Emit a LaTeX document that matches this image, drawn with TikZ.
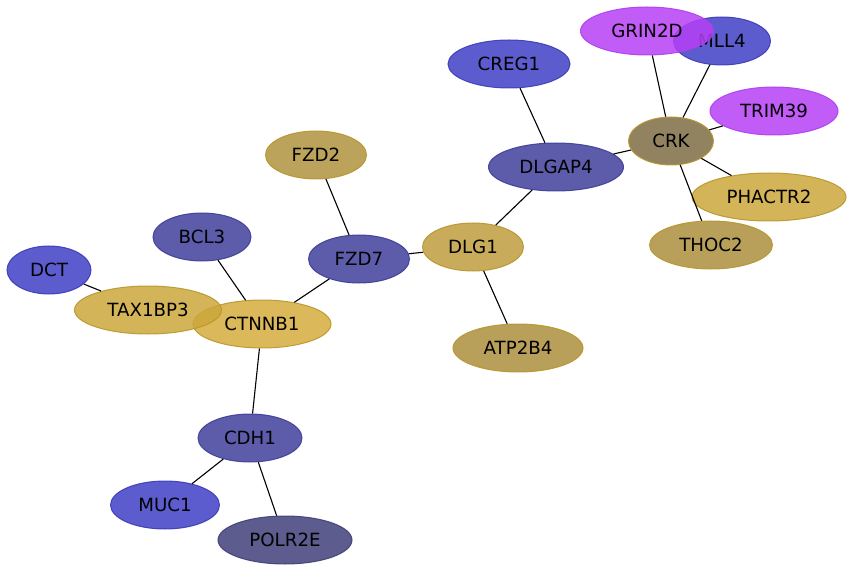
\documentclass[tikz,border=0pt]{standalone}
\usepackage{fontspec}
\setmainfont{DejaVu Sans}
\usetikzlibrary{shapes.geometric}
\definecolor{cblue}{RGB}{63,63,197}
\definecolor{cbluel}{HTML}{3A3AB8}
\definecolor{cgrey}{RGB}{63,63,155}
\definecolor{cgreyl}{HTML}{3C3C99}
\definecolor{cdark}{RGB}{63,63,122}
\definecolor{cdarkl}{HTML}{3E3E75}
\definecolor{cmag}{RGB}{182,63,246}
\definecolor{cmagl}{HTML}{AE3EF0}
\definecolor{gA}{RGB}{213,173,61}
\definecolor{gB}{RGB}{203,167,59}
\definecolor{gC}{RGB}{190,157,64}
\definecolor{gD}{RGB}{175,147,62}
\definecolor{gE}{RGB}{171,143,62}
\definecolor{gF}{RGB}{127,109,68}
\definecolor{gline}{HTML}{B8962A}
\tikzset{
  gene/.style={ellipse, inner sep=0pt, minimum height=48pt, font=\fontsize{18.2pt}{21pt}\selectfont, text=black, line width=1pt, fill opacity=0.85, draw opacity=0.9, text opacity=1},
  bl/.style={gene, fill=cblue, draw=cbluel},
  gr/.style={gene, fill=cgrey, draw=cgreyl},
  dk/.style={gene, fill=cdark, draw=cdarkl},
  mg/.style={gene, fill=cmag, draw=cmagl},
  gold/.style={gene, fill=#1, draw=gline},
  link/.style={draw=black, line width=1.1pt}
}
\begin{document}
\begin{tikzpicture}[x=1pt,y=-1pt]
\useasboundingbox (0,0) rectangle (854,572);
\node[bl, minimum width=97pt] (MLL4) at (722,41) {MLL4};
\node[mg, minimum width=133pt] (GRIN2D) at (647,31) {GRIN2D};
\node[bl, minimum width=122pt] (CREG1) at (509,64) {CREG1};
\node[mg, minimum width=128pt] (TRIM39) at (774,111) {TRIM39};
\node[gold=gF, minimum width=85pt] (CRK) at (671,141) {CRK};
\node[gr, minimum width=135pt] (DLGAP4) at (556,167) {DLGAP4};
\node[gold=gB, minimum width=154pt] (PHACTR2) at (769,197) {PHACTR2};
\node[gold=gE, minimum width=123pt] (THOC2) at (711,245) {THOC2};
\node[gold=gD, minimum width=101pt] (FZD2) at (316,155) {FZD2};
\node[gr, minimum width=98pt] (BCL3) at (202,237) {BCL3};
\node[gr, minimum width=101pt] (FZD7) at (359,259) {FZD7};
\node[gold=gC, minimum width=101pt] (DLG1) at (473,247) {DLG1};
\node[bl, minimum width=84pt] (DCT) at (49,270) {DCT};
\node[gold=gA, minimum width=138pt] (CTNNB1) at (262,324) {CTNNB1};
\node[gold=gB, minimum width=147pt] (TAX1BP3) at (148,310) {TAX1BP3};
\node[gold=gE, minimum width=130pt] (ATP2B4) at (518,348) {ATP2B4};
\node[gr, minimum width=104pt] (CDH1) at (250,438) {CDH1};
\node[bl, minimum width=109pt] (MUC1) at (165,505) {MUC1};
\node[dk, minimum width=134pt] (POLR2E) at (285,540) {POLR2E};
\path[link] (DCT) -- (TAX1BP3);
\path[link] (BCL3) -- (CTNNB1);
\path[link] (CTNNB1) -- (FZD7);
\path[link] (FZD2) -- (FZD7);
\path[link] (FZD7) -- (DLG1);
\path[link] (DLG1) -- (DLGAP4);
\path[link] (DLG1) -- (ATP2B4);
\path[link] (DLGAP4) -- (CREG1);
\path[link] (DLGAP4) -- (CRK);
\path[link] (CRK) -- (GRIN2D);
\path[link] (CRK) -- (MLL4);
\path[link] (CRK) -- (TRIM39);
\path[link] (CRK) -- (PHACTR2);
\path[link] (CRK) -- (THOC2);
\path[link] (CTNNB1) -- (CDH1);
\path[link] (CDH1) -- (MUC1);
\path[link] (CDH1) -- (POLR2E);
\end{tikzpicture}
\end{document}
